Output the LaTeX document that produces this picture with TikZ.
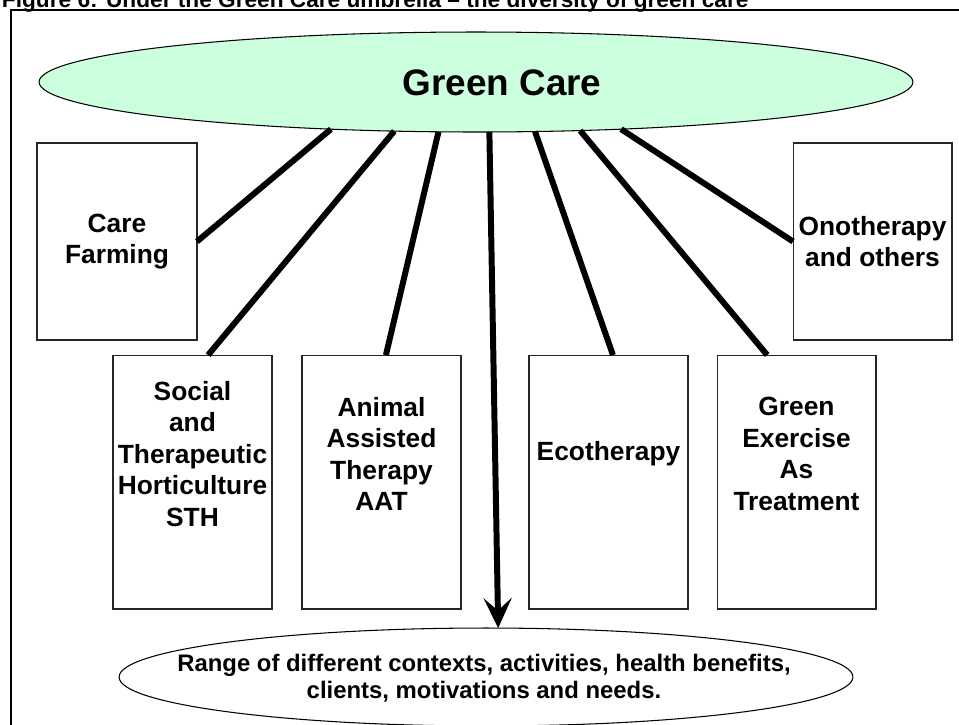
\documentclass[tikz,border=0pt]{standalone}
\usepackage{fontspec}
\setmainfont{Liberation Sans}
\usetikzlibrary{shapes.geometric}
\usetikzlibrary{arrows.meta}

\definecolor{carefill}{RGB}{204,255,221}

\begin{document}
\begin{tikzpicture}[x=0.02cm, y=-0.02cm, every node/.style={inner sep=0pt, outer sep=0pt, align=center}, link/.style={line width=3.4pt}]
    \useasboundingbox (0,0) rectangle (959,724);

    \node[anchor=base west, font=\fontsize{12.9}{15}\selectfont\bfseries] (title) at (2,7) {Figure 6: Under the Green Care umbrella -- the diversity of green care};
    \draw[line width=1.5pt] (11,740) -- (11,10) -- (975,10);

    \node[ellipse, draw, line width=0.6pt, fill=carefill, minimum width=17.48cm, minimum height=2cm] (gc) at (476,82) {};
    \node[font=\fontsize{21}{25}\selectfont\bfseries] (gctext) at (502,83) {Green Care};

    \node[rectangle, draw=black!85, line width=0.6pt, minimum width=3.2cm, minimum height=3.94cm, font=\fontsize{15}{18}\selectfont\bfseries] (cf) at (117,241.5) {Care\\Farming};
    \node[rectangle, draw=black!85, line width=0.6pt, minimum width=3.18cm, minimum height=3.94cm, font=\fontsize{15}{18}\selectfont\bfseries] (ono) at (872.5,241.5) {Onotherapy\\and others};

    \node[rectangle, draw=black!85, line width=0.6pt, minimum width=3.18cm, minimum height=5.08cm] (sth) at (192.5,482) {};
    \node[rectangle, draw=black!85, line width=0.6pt, minimum width=3.18cm, minimum height=5.08cm] (aat) at (381.5,482) {};
    \node[rectangle, draw=black!85, line width=0.6pt, minimum width=3.18cm, minimum height=5.08cm] (eco) at (608.5,482) {};
    \node[rectangle, draw=black!85, line width=0.6pt, minimum width=3.18cm, minimum height=5.08cm] (gex) at (796.5,482) {};

    \node[font=\fontsize{15}{18}\selectfont\bfseries] (sthtext) at ([yshift=16pt]sth.center) {Social\\and\\Therapeutic\\Horticulture\\STH};
    \node[font=\fontsize{15}{18}\selectfont\bfseries] (aattext) at ([yshift=16pt]aat.center) {Animal\\Assisted\\Therapy\\AAT};
    \node[font=\fontsize{15}{18}\selectfont\bfseries] (ecotext) at ([yshift=16pt]eco.center) {Ecotherapy};
    \node[font=\fontsize{15}{18}\selectfont\bfseries] (gextext) at ([yshift=16pt]gex.center) {Green\\Exercise\\As\\Treatment};

    \node[ellipse, draw, line width=0.6pt, minimum width=14.68cm, minimum height=1.96cm] (range) at (486,677) {};
    \node[font=\fontsize{13.6}{15}\selectfont\bfseries] (rangetext) at (484,678) {Range of different contexts, activities, health benefits,\\clients, motivations and needs.};

    \draw[link] (cf.east) to (gc.198.6);
    \draw[link] (sth.83.5) to (gc.211.8);
    \draw[link] (aat.88) to (gc.233.5);
    \draw[link] (eco.88.4) to (gc.320);
    \draw[link] (gex.103.1) to (gc.335.1);
    \draw[link] (ono.west) to (gc.342.5);
    \draw[link, -{Stealth[length=17pt, width=16pt, inset=7pt]}] (gc.285.6) to (range.76.2);
\end{tikzpicture}
\end{document}
